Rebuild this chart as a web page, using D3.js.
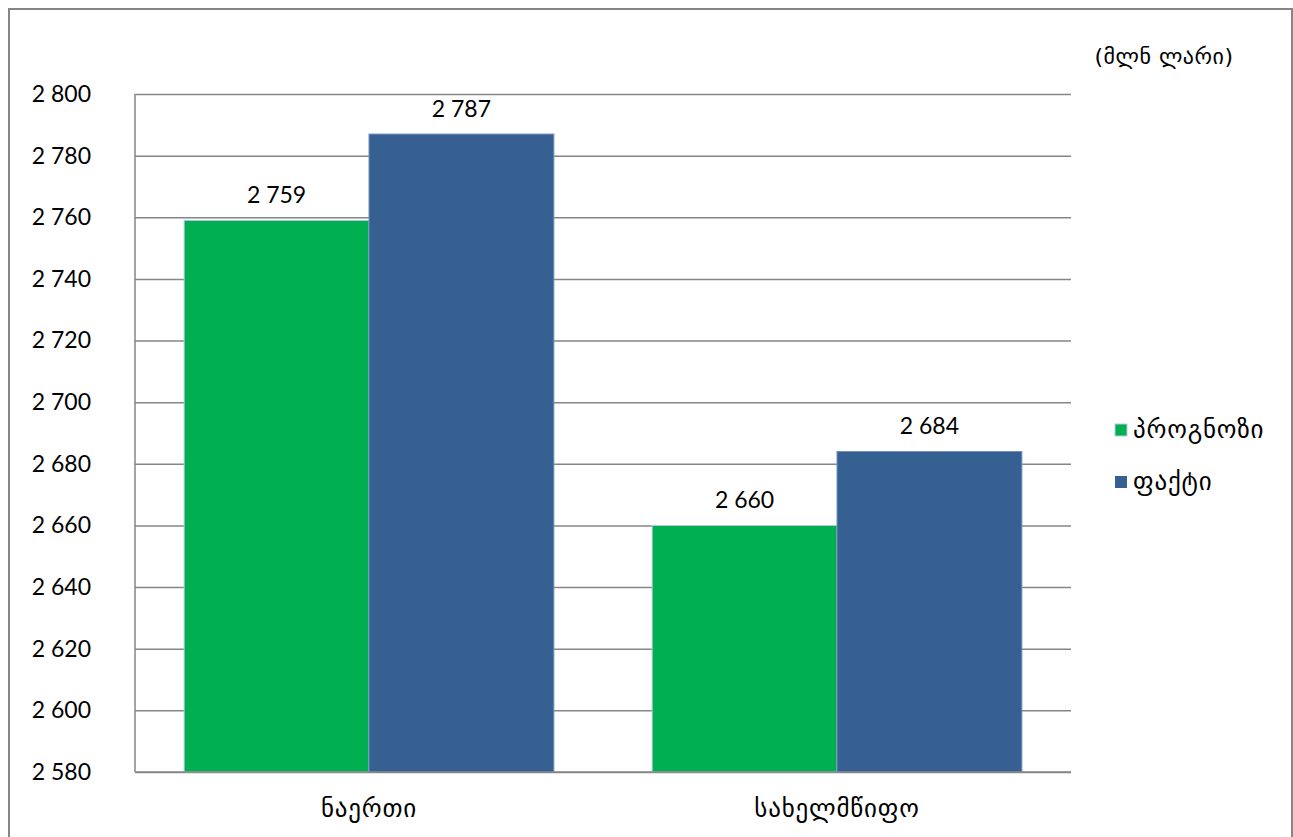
<!DOCTYPE html>
<html><head><meta charset="utf-8">
<script src="https://cdn.jsdelivr.net/npm/d3@7"></script>
<style>body{margin:0;background:#fff}svg{display:block}</style>
</head><body>
<svg id="c" width="1293" height="837"></svg>
<script>
const categories = ["ნაერთი", "სახელმწიფო"];
const seriesNames = ["პროგნოზი", "ფაქტი"];
const forecast = [2759, 2660];
const actual = [2787, 2684];
const yTicks = [2580, 2600, 2620, 2640, 2660, 2680, 2700, 2720, 2740, 2760, 2780, 2800];
const colors = ["#00af50", "#366092"];
const unitLabel = "(მლნ ლარი)";

const svg = d3.select("#c");
const numFont = "Lato, 'Open Sans', sans-serif";
const geoFont = "'DejaVu Sans', sans-serif";
svg.append("rect").attr("x", 9).attr("y", 9).attr("width", 1283).attr("height", 840)
  .attr("fill", "#fff").attr("stroke", "#868686").attr("stroke-width", 2);

const L = 135, R = 1071, T = 94, B = 772;
const y = d3.scaleLinear().domain([2580, 2800]).range([B, T]);
const x0 = d3.scaleBand().domain(categories).range([L, R]).paddingInner(0.21).paddingOuter(0.105);
const x1 = d3.scaleBand().domain(seriesNames).range([0, x0.bandwidth()]);
const fmt = d => d3.format(",")(d).replace(",", " ");

const g = svg.append("g");
const yAxis = d3.axisLeft(y).tickValues(yTicks).tickSize(-(R - L)).tickPadding(44).tickFormat(fmt);
const ya = g.append("g").attr("transform", `translate(${L},0)`).call(yAxis);
ya.select(".domain").remove();
ya.selectAll(".tick line").attr("stroke", "#868686").attr("stroke-width", 1.5);
ya.selectAll(".tick text").attr("font-family", numFont).attr("font-size", 23).attr("fill", "#000");
g.append("line").attr("x1", L).attr("x2", L).attr("y1", T).attr("y2", B)
  .attr("stroke", "#868686").attr("stroke-width", 1.5);

const data = categories.map((c, i) => ({c, vals: [forecast[i], actual[i]]}));
const grp = g.selectAll(".grp").data(data).join("g")
  .attr("transform", d => `translate(${x0(d.c)},0)`);
grp.selectAll("rect").data(d => d.vals.map((v, j) => ({v, s: seriesNames[j], j})))
  .join("rect")
  .attr("x", d => x1(d.s)).attr("width", x1.bandwidth())
  .attr("y", d => y(d.v)).attr("height", d => B - y(d.v))
  .attr("fill", d => colors[d.j])
  .attr("stroke", d => d.j === 0 ? "#b9c9e8" : "#6f8fbf").attr("stroke-width", 1);
grp.selectAll("text").data(d => d.vals.map((v, j) => ({v, s: seriesNames[j], j})))
  .join("text")
  .attr("x", d => x1(d.s) + x1.bandwidth() / 2).attr("y", d => y(d.v) - 17)
  .attr("text-anchor", "middle").attr("font-family", numFont).attr("font-size", 23)
  .text(d => fmt(d.v));

g.append("line").attr("x1", L).attr("x2", R).attr("y1", B).attr("y2", B)
  .attr("stroke", "#868686").attr("stroke-width", 1.5);
g.selectAll(".cat").data(categories).join("text")
  .attr("x", d => x0(d) + x0.bandwidth() / 2).attr("y", 817)
  .attr("text-anchor", "middle").attr("font-family", geoFont).attr("font-size", 25)
  .attr("letter-spacing", 0.8)
  .text(d => d);

svg.append("text").attr("x", 1164).attr("y", 64).attr("text-anchor", "middle")
  .attr("font-family", geoFont).attr("font-size", 22).attr("letter-spacing", 0.5).text(unitLabel);

const leg = svg.append("g");
seriesNames.forEach((s, i) => {
  const yy = 430 + i * 52;
  leg.append("rect").attr("x", 1115).attr("y", yy - 6).attr("width", 12).attr("height", 12)
    .attr("fill", colors[i]).attr("stroke", i === 0 ? "#b9c9e8" : "none");
  leg.append("text").attr("x", 1133).attr("y", yy + 8).attr("font-family", geoFont)
    .attr("font-size", 25).attr("letter-spacing", 0.8).text(s);
});
</script>
</body></html>
